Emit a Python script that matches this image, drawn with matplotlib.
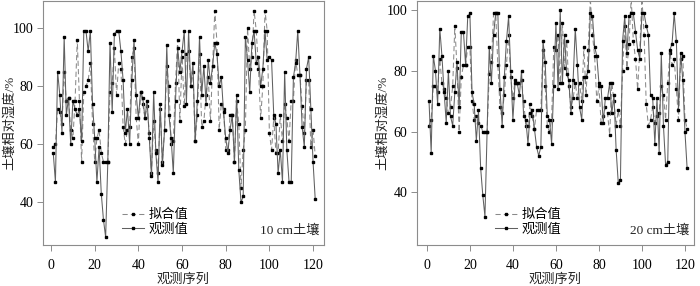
import numpy as np
import matplotlib
matplotlib.use("Agg")
import matplotlib.pyplot as plt

plt.rcParams['font.family'] = ['Liberation Serif', 'Noto Sans CJK SC']
plt.rcParams['axes.unicode_minus'] = False

# observation index
idx = np.arange(1, 122)

# 10 cm soil: observed and fitted relative humidity (%)
obs_10 = [57, 47, 85, 77, 64, 97, 70, 76, 60, 75, 72, 70, 72, 61, 99, 99, 92, 99, 74, 62,
          47, 59, 43, 34, 28, 54, 95, 71, 98, 99, 99, 92, 82, 64, 72, 60, 82, 96, 77, 69,
          78, 76, 69, 75, 62, 49, 78, 57, 47, 74, 53, 65, 94, 70, 62, 50, 75, 93, 85, 92,
          99, 74, 99, 80, 88, 61, 75, 97, 77, 87, 74, 89, 81, 87, 95, 91, 80, 83, 71, 62,
          57, 65, 70, 54, 77, 51, 40, 42, 97, 89, 78, 95, 99, 88, 90, 80, 86, 99, 89, 90,
          89, 70, 67, 50, 58, 47, 85, 58, 47, 47, 83, 88, 99, 84, 66, 59, 86, 90, 72, 54,
          41]
fit_10 = [59, 60, 72, 71, 67, 85, 75, 76, 65, 62, 75, 96, 75, 54, 78, 80, 82, 88, 67, 54,
          62, 65, 57, 54, 54, 54, 78, 81, 93, 77, 88, 86, 66, 60, 65, 66, 90, 93, 69, 60,
          78, 74, 69, 73, 64, 50, 68, 58, 50, 72, 54, 65, 87, 80, 60, 61, 81, 96, 68, 90,
          73, 91, 92, 80, 85, 61, 70, 91, 66, 68, 77, 83, 68, 87, 106, 95, 65, 74, 72, 58,
          58, 70, 70, 54, 75, 67, 45, 58, 65, 100, 86, 90, 106, 99, 86, 69, 80, 106, 99, 64,
          58, 69, 57, 57, 70, 61, 74, 69, 61, 75, 75, 89, 84, 84, 73, 64, 82, 82, 59, 65,
          56]

# 20 cm soil
obs_20 = [70, 53, 85, 80, 69, 94, 85, 73, 63, 80, 65, 62, 73, 83, 68, 93, 93, 82, 98, 99,
          73, 69, 57, 67, 48, 39, 32, 60, 88, 76, 92, 99, 99, 74, 62, 78, 90, 98, 80, 64,
          76, 76, 72, 80, 65, 64, 56, 66, 67, 61, 55, 52, 55, 90, 83, 65, 64, 56, 75, 96,
          74, 100, 76, 92, 79, 77, 66, 77, 94, 82, 68, 64, 78, 78, 80, 99, 98, 88, 85, 76,
          75, 63, 71, 71, 76, 66, 72, 54, 43, 44, 90, 98, 86, 98, 99, 99, 93, 87, 84, 99,
          99, 95, 92, 72, 71, 56, 71, 53, 86, 62, 49, 50, 87, 89, 99, 90, 67, 86, 77, 60,
          48]
fit_20 = [62, 64, 75, 75, 73, 84, 76, 74, 71, 66, 68, 75, 95, 81, 60, 78, 82, 82, 88, 88,
          70, 64, 65, 63, 62, 60, 60, 60, 79, 83, 99, 99, 82, 68, 66, 72, 82, 92, 78, 71,
          77, 76, 76, 77, 70, 62, 62, 69, 65, 61, 67, 67, 67, 87, 75, 62, 60, 64, 88, 87,
          92, 76, 96, 81, 90, 75, 68, 71, 76, 71, 76, 70, 88, 72, 87, 104, 92, 85, 70, 75,
          63, 65, 68, 66, 59, 76, 70, 62, 67, 62, 80, 95, 81, 89, 104, 90, 84, 74, 87, 104,
          92, 69, 62, 64, 68, 63, 65, 66, 75, 72, 64, 76, 86, 82, 84, 74, 64, 84, 85, 64,
          61]

xticks = [0, 20, 40, 60, 80, 100, 120]
yticks = [40, 60, 80, 100]

fig = plt.figure(figsize=(7.0, 2.86), dpi=100)

panels = [
    dict(obs=obs_10, fit=fit_10, label='10 cm土壤', rect=[0.0614, 0.1434, 0.4014, 0.853],
         xlim=(-3.7, 125.0), ylim=(25.3, 109.3), ylab_x=-0.118),
    dict(obs=obs_20, fit=fit_20, label='20 cm土壤', rect=[0.5957, 0.1434, 0.3957, 0.853],
         xlim=(-4.6, 124.2), ylim=(22.6, 103.1), ylab_x=-0.125),
]

for p in panels:
    ax = fig.add_axes(p['rect'])
    ax.plot(idx, p['fit'], color='#8a8a8a', lw=0.75, ls=(0, (5, 3)),
            marker='s', ms=1.8, mfc='black', mec='black', label='拟合值')
    ax.plot(idx, p['obs'], color='#606060', lw=0.75, ls='-',
            marker='s', ms=1.8, mfc='black', mec='black', label='观测值')
    ax.set_xlim(*p['xlim'])
    ax.set_ylim(*p['ylim'])
    ax.set_xticks(xticks)
    ax.set_yticks(yticks)
    for s in ax.spines.values():
        s.set_color('#8c8c8c')
        s.set_linewidth(0.8)
    ax.tick_params(direction='out', length=4, width=0.7, color='#8c8c8c',
                   labelsize=10, pad=3)
    ax.tick_params(axis='x', pad=6)
    ax.set_ylabel('土壤相对湿度/%', fontsize=9.5, color='#222222', va='center')
    ax.yaxis.set_label_coords(p['ylab_x'], 0.5)
    ax.set_xlabel('观测序列', fontsize=9.5, color='#222222', va='center')
    ax.xaxis.set_label_coords(0.5, -0.143)
    ax.legend(loc='lower left', bbox_to_anchor=(0.25, 0.0), frameon=False,
              fontsize=9.5, handlelength=1.6, handletextpad=0.4,
              labelspacing=0.15, borderaxespad=0.3)
    ax.text(0.985, 0.035, p['label'], transform=ax.transAxes, ha='right', va='bottom',
            fontsize=9.5, color='#222222')

fig.savefig('out.png', dpi=100)
